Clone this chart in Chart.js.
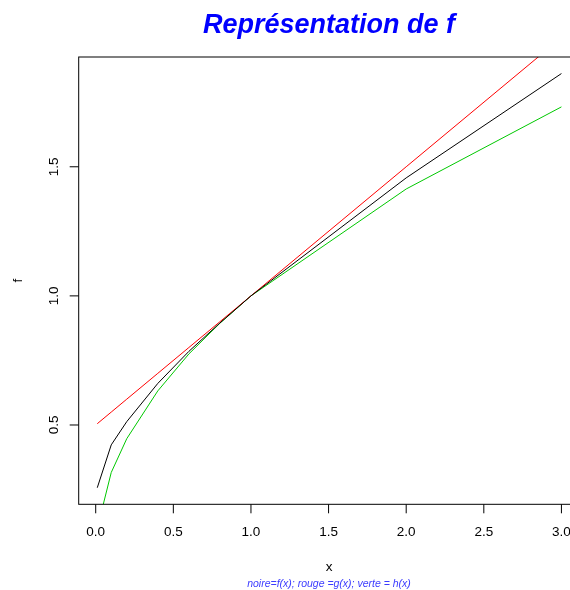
<!DOCTYPE html>
<html>
<head>
<meta charset="utf-8">
<script src="https://cdn.jsdelivr.net/npm/chart.js@4.4.1/dist/chart.umd.min.js"></script>
<style>
  html, body { margin: 0; padding: 0; background: #ffffff; overflow: hidden; width: 570px; height: 590px; }
  canvas { display: block; }
</style>
</head>
<body>
<canvas id="c" width="580" height="590"></canvas>
<script>
// ---- data ----
const xValues = [0.01, 0.1, 0.2, 0.4, 0.6, 0.8, 1, 2, 3];
const fValues = [0.257, 0.423, 0.513, 0.661, 0.785, 0.895, 1.0, 1.457, 1.861]; // noire
const gValues = [0.505, 0.55, 0.6, 0.7, 0.8, 0.9, 1.0, 1.5, 2.0];              // rouge
const hValues = [0.1, 0.316, 0.447, 0.632, 0.775, 0.894, 1.0, 1.414, 1.732];   // verte
const xTicks = [0, 0.5, 1, 1.5, 2, 2.5, 3];
const yTicks = [0.5, 1, 1.5];
const xTickLabels = ["0.0", "0.5", "1.0", "1.5", "2.0", "2.5", "3.0"];
const yTickLabels = ["0.5", "1.0", "1.5"];
const titleText = "Représentation de f";
const xLabel = "x";
const yLabel = "f";
const subText = "noire=f(x); rouge =g(x); verte = h(x)";

// axis ranges like R (4% extension of data range)
const xr = [Math.min(...xValues), Math.max(...xValues)];
const yr = [Math.min(...fValues), Math.max(...fValues)];
const xMin = xr[0] - 0.04 * (xr[1] - xr[0]), xMax = xr[1] + 0.04 * (xr[1] - xr[0]);
const yMin = yr[0] - 0.04 * (yr[1] - yr[0]), yMax = yr[1] + 0.04 * (yr[1] - yr[0]);

const pts = (ys) => xValues.map((x, i) => ({ x: x, y: ys[i] }));
const FONT = '"Liberation Sans", Arial, Helvetica, sans-serif';

const decor = {
  id: 'decor',
  afterDraw(chart) {
    const ctx = chart.ctx;
    const a = chart.chartArea;
    const sx = chart.scales.x, sy = chart.scales.y;
    ctx.save();
    // box
    ctx.strokeStyle = '#000';
    ctx.lineWidth = 1;
    ctx.strokeRect(a.left, a.top, a.right - a.left, a.bottom - a.top);
    // x ticks
    ctx.fillStyle = '#000';
    ctx.font = '13.5px ' + FONT;
    ctx.textAlign = 'center';
    ctx.textBaseline = 'alphabetic';
    xTicks.forEach((v, i) => {
      const px = sx.getPixelForValue(v);
      ctx.beginPath();
      ctx.moveTo(px, a.bottom);
      ctx.lineTo(px, a.bottom + 9);
      ctx.stroke();
      ctx.fillText(xTickLabels[i], px, 535.5);
    });
    // y ticks
    yTicks.forEach((v, i) => {
      const py = sy.getPixelForValue(v);
      ctx.beginPath();
      ctx.moveTo(a.left, py);
      ctx.lineTo(a.left - 9, py);
      ctx.stroke();
      ctx.save();
      ctx.translate(58, py);
      ctx.rotate(-Math.PI / 2);
      ctx.fillText(yTickLabels[i], 0, 0);
      ctx.restore();
    });
    // axis titles
    ctx.fillText(xLabel, 329, 571);
    ctx.save();
    ctx.translate(21.5, 280.5);
    ctx.rotate(-Math.PI / 2);
    ctx.fillText(yLabel, 0, 0);
    ctx.restore();
    // main title
    ctx.fillStyle = '#0000ff';
    ctx.font = 'italic bold 27px ' + FONT;
    ctx.fillText(titleText, 329, 33);
    // subtitle
    ctx.fillStyle = '#3c3cff';
    ctx.font = 'italic 10.5px ' + FONT;
    ctx.fillText(subText, 329, 587);
    ctx.restore();
  }
};

new Chart(document.getElementById('c'), {
  type: 'scatter',
  data: {
    datasets: [
      { label: 'f', data: pts(fValues), showLine: true, borderColor: '#000000', borderWidth: 1, pointRadius: 0, fill: false, tension: 0 },
      { label: 'g', data: pts(gValues), showLine: true, borderColor: '#ff0000', borderWidth: 1, pointRadius: 0, fill: false, tension: 0 },
      { label: 'h', data: pts(hValues), showLine: true, borderColor: '#00c800', borderWidth: 1, pointRadius: 0, fill: false, tension: 0 }
    ]
  },
  options: {
    responsive: false,
    animation: false,
    devicePixelRatio: 1,
    layout: { padding: { left: 78.7, top: 57, right: 0, bottom: 85.7 } },
    scales: {
      x: { type: 'linear', min: xMin, max: xMax, display: false },
      y: { type: 'linear', min: yMin, max: yMax, display: false }
    },
    plugins: {
      legend: { display: false },
      tooltip: { enabled: false },
      title: { display: false }
    }
  },
  plugins: [decor]
});
</script>
</body>
</html>
